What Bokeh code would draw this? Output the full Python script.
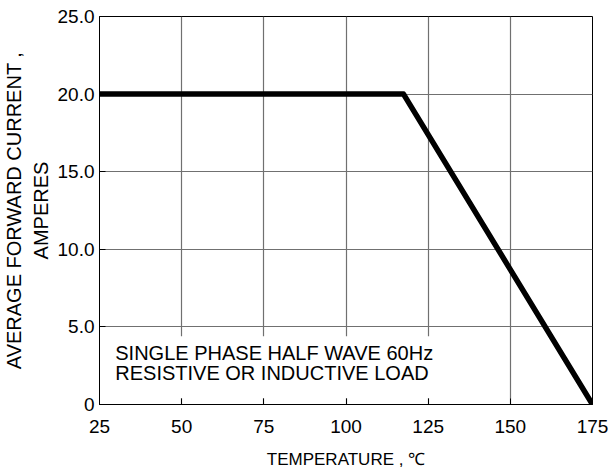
from bokeh.plotting import figure
from bokeh.models import Range1d, FixedTicker, Label
from bokeh.embed import file_html
from bokeh.resources import INLINE

# Data
temperature = [25, 117.5, 175]
current = [20, 20, 0]
x_ticks = [25, 50, 75, 100, 125, 150, 175]
y_ticks = [0, 5, 10, 15, 20, 25]
y_tick_labels = ["0", "5.0", "10.0", "15.0", "20.0", "25.0"]
note_lines = ["SINGLE PHASE HALF WAVE 60Hz", "RESISTIVE OR INDUCTIVE LOAD"]
x_title = "TEMPERATURE , \u2103"
y_title = "AVERAGE FORWARD CURRENT ,\nAMPERES"

FONT = "Liberation Sans"

p = figure(width=615, height=471, output_backend="svg", toolbar_location=None,
           x_range=Range1d(25, 175), y_range=Range1d(0, 25),
           min_border_left=98, min_border_right=23, min_border_top=16, min_border_bottom=67)
p.background_fill_color = "white"
p.border_fill_color = "white"
p.outline_line_color = "black"
p.outline_line_width = 1

# axes
p.xaxis.ticker = FixedTicker(ticks=x_ticks)
p.yaxis.ticker = FixedTicker(ticks=y_ticks)
p.yaxis.major_label_overrides = {t: l for t, l in zip(y_ticks, y_tick_labels)}
for ax in (p.xaxis, p.yaxis):
    ax.major_label_text_font = FONT
    ax.major_label_text_font_size = "19px"
    ax.major_label_text_color = "black"
    ax.axis_label_text_font = FONT
    ax.axis_label_text_font_style = "normal"
    ax.axis_label_text_color = "black"
    ax.axis_line_color = "black"
    ax.major_tick_line_color = "black"
    ax.major_tick_in = 6
    ax.major_tick_out = 0
    ax.minor_tick_line_color = None

p.xaxis.major_label_standoff = 15
p.xaxis.axis_label = x_title
p.xaxis.axis_label_text_font_size = "17px"
p.xaxis.axis_label_standoff = 14

p.yaxis.major_label_standoff = 5
p.yaxis.axis_label = y_title
p.yaxis.axis_label_text_font_size = "20px"
p.yaxis.axis_label_standoff = 3

# grid
p.xgrid.ticker = FixedTicker(ticks=x_ticks)
p.ygrid.ticker = FixedTicker(ticks=y_ticks)
p.grid.grid_line_color = "#707070"
p.grid.grid_line_width = 1.2

# white box behind the note
p.quad(left=[25], right=[140], bottom=[0.4], top=[4.4],
       fill_color="white", line_color=None)

# curve
p.line(temperature, current, line_color="black", line_width=5.5,
       line_join="round", line_cap="round")

# note
for i, txt in enumerate(note_lines):
    p.add_layout(Label(x=29.8, y=3.35 - i * 1.29, text=txt, text_font=FONT,
                       text_font_size="20px", text_color="black",
                       text_baseline="middle", text_align="left"))

open("out.html", "w").write(file_html(p, INLINE))
